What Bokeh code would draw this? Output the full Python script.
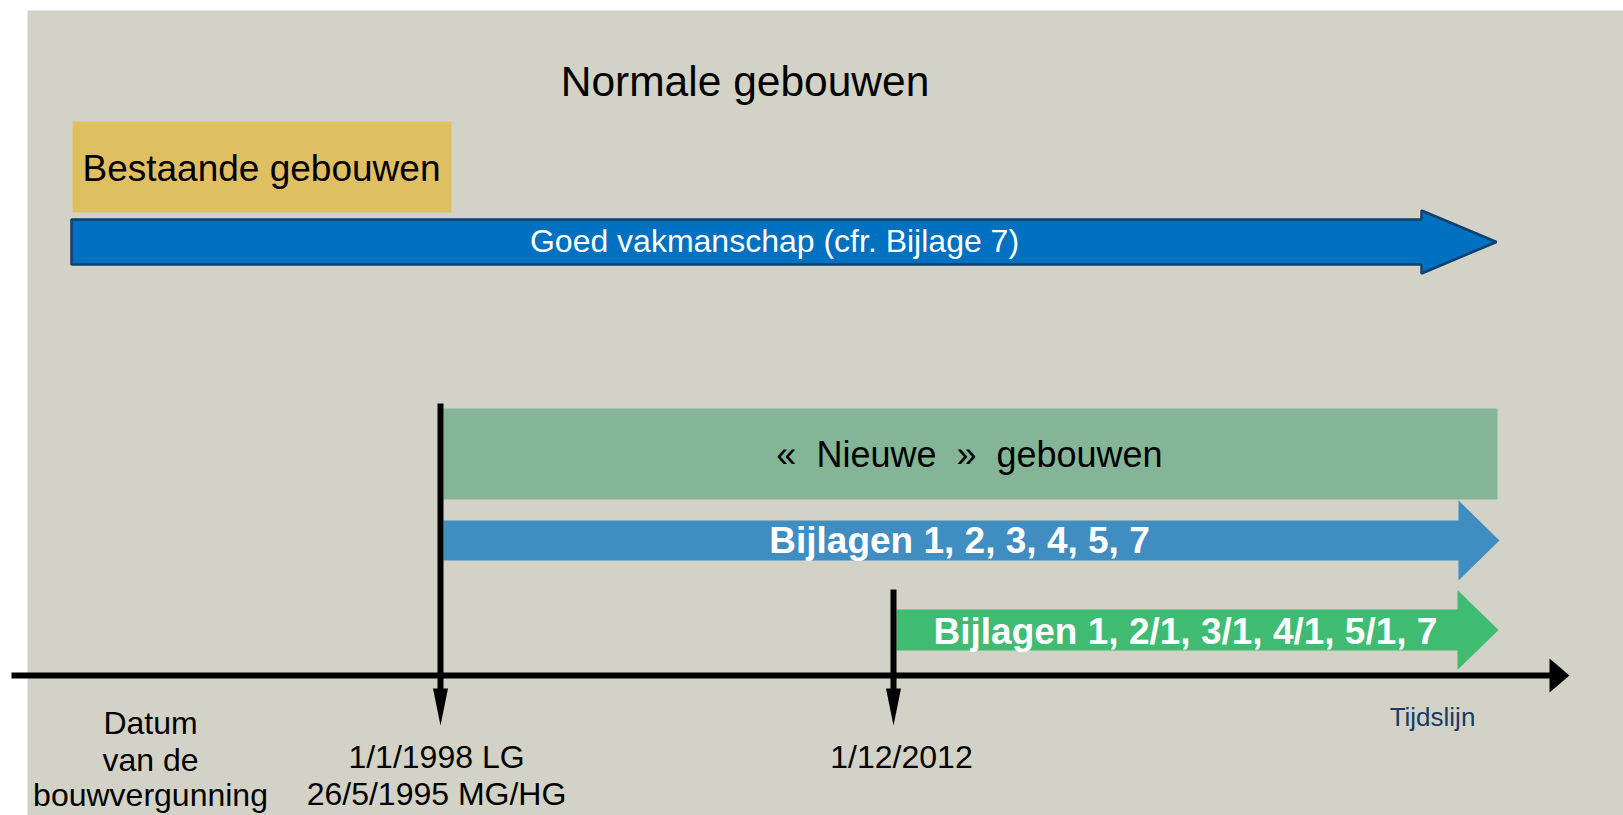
from bokeh.plotting import figure
from bokeh.models import Range1d
from bokeh.core.properties import value
from bokeh.embed import file_html
from bokeh.resources import INLINE

# ---------------- data ----------------
title_text = "Normale gebouwen"

box_labels = ["Bestaande gebouwen", "«\u00a0\u00a0Nieuwe\u00a0\u00a0»\u00a0\u00a0gebouwen"]
box_left = [72, 443]
box_right = [451, 1497]
box_top = [121, 408]
box_bottom = [212, 499]
box_colors = ["#E0BF63", "#83B596"]

arrow_labels = ["Goed vakmanschap (cfr. Bijlage 7)",
                "Bijlagen 1, 2, 3, 4, 5, 7",
                "Bijlagen 1, 2/1, 3/1, 4/1, 5/1, 7"]
arrow_start = [71, 443, 896]
arrow_tip = [1496, 1499, 1498]
arrow_mid = [241.5, 540, 629.5]
arrow_body_half = [22.5, 20, 20.5]
arrow_head_half = [31.5, 40, 40]
arrow_head_len = [75, 41, 41]
arrow_colors = ["#0070C0", "#408DC2", "#3FBB72"]

milestone_x = [440, 893]
milestone_top = [403, 589]
milestone_lines = [["1/1/1998 LG", "26/5/1995 MG/HG"], ["1/12/2012"]]

origin_lines = ["Datum", "van de", "bouwvergunning"]
axis_label = "Tijdslijn"

FONT = "Liberation Sans"
SHIFT = 0.35  # baseline correction (fraction of font size)


def label(x, y, t, size, color="black", align="center", bold=False, font=FONT):
    p.text(x=[x], y=[y - SHIFT * size], text=[t], text_font=value(font),
           text_font_size=f"{size}px", text_font_style="bold" if bold else "normal",
           text_align=align, text_baseline="alphabetic", text_color=color)


# ---------------- figure ----------------
p = figure(width=1623, height=815, x_range=Range1d(0, 1623), y_range=Range1d(815, 0),
           output_backend="svg", toolbar_location=None, min_border=0,
           x_axis_type=None, y_axis_type=None)
p.grid.visible = False
p.outline_line_color = None
p.background_fill_color = "white"
p.border_fill_color = "white"

# panel background
p.quad(left=[27], right=[1623], top=[10], bottom=[815], fill_color="#D2D2C6", line_color=None)

# title
label(744.5, 95.5, title_text, 42.5)

# boxes
p.quad(left=box_left, right=box_right, top=box_top, bottom=box_bottom,
       fill_color=box_colors, line_color=None)
label(box_left[0] + 10, 181, box_labels[0], 37, align="left")
label((box_left[1] + box_right[1]) / 2 - 1, 467, box_labels[1], 36)

# arrows
xs, ys = [], []
for x0, x1, yc, bh, hh, hl in zip(arrow_start, arrow_tip, arrow_mid, arrow_body_half,
                                  arrow_head_half, arrow_head_len):
    hb = x1 - hl
    xs.append([x0, hb, hb, x1, hb, hb, x0])
    ys.append([yc - bh, yc - bh, yc - hh, yc, yc + hh, yc + bh, yc + bh])
p.patches(xs=[xs[0]], ys=[ys[0]], fill_color=arrow_colors[0], line_color="#123F6E", line_width=2.5)
p.patches(xs=xs[1:], ys=ys[1:], fill_color=arrow_colors[1:], line_color=None)

label(774, 252, arrow_labels[0], 32, color="white")
label(959, 553, arrow_labels[1], 37, color="white", bold=True)
label(1185, 644, arrow_labels[2], 37, color="white", bold=True)

# timeline
p.segment(x0=[11], y0=[675], x1=[1550], y1=[675], line_color="black", line_width=6)
p.patches(xs=[[1549, 1569, 1549]], ys=[[658, 675, 692]], fill_color="black", line_color=None)

# milestones
for mx, mt, lines in zip(milestone_x, milestone_top, milestone_lines):
    p.segment(x0=[mx], y0=[mt], x1=[mx], y1=[690], line_color="black", line_width=6)
    p.patches(xs=[[mx - 7.5, mx + 7.5, mx]], ys=[[688, 688, 725]], fill_color="black", line_color=None)
    for i, t in enumerate(lines):
        label(mx + (-4 if mx < 600 else 8), 768 + 37 * i, t, 32)

origin_y = [734, 771, 806]
for t, oy in zip(origin_lines, origin_y):
    label(150, oy, t, 32)

label(1432, 726, axis_label, 26, color="#1A3A66")

open("out.html", "w").write(file_html(p, INLINE))
